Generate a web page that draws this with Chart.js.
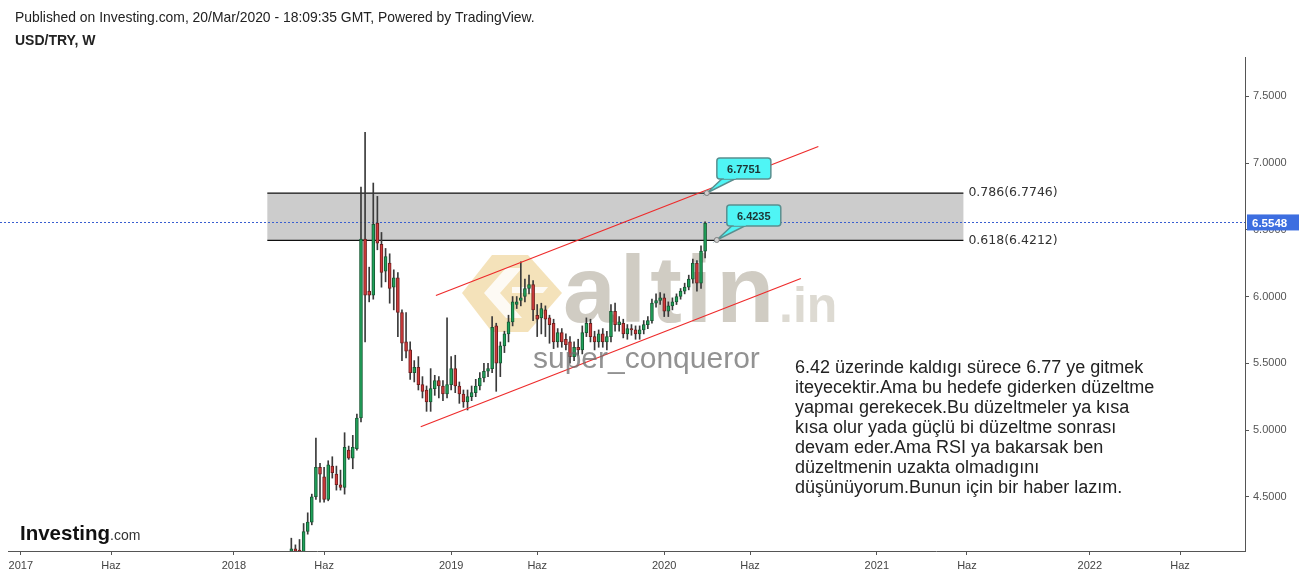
<!DOCTYPE html>
<html>
<head>
<meta charset="utf-8">
<script src="https://cdn.jsdelivr.net/npm/chart.js@4.4.1/dist/chart.umd.min.js"></script>
<style>
  html, body { margin: 0; padding: 0; background: #fff; }
</style>
</head>
<body>
<canvas id="chart" width="1299" height="579"></canvas>
<script>
// weekly USD/TRY candles, first bar = week of firstWeek
const firstWeek = "2018-04-09";
const opens = [4.09,4.11,4.10,4.08,4.24,4.31,4.50,4.72,4.65,4.48,4.73,4.67,4.59,4.57,4.85,4.79,4.86,5.09,6.43,6.04,
  6.01,6.55,6.39,6.19,6.25,6.07,6.14,5.88,5.66,5.60,5.43,5.47,5.34,5.30,5.21,5.31,5.37,5.33,5.27,5.34,
  5.46,5.33,5.27,5.21,5.25,5.28,5.33,5.39,5.44,5.46,5.78,5.50,5.63,5.72,5.81,5.94,5.97,6.00,6.06,6.09,
  5.86,5.84,5.90,5.84,5.80,5.66,5.73,5.68,5.66,5.55,5.62,5.60,5.73,5.80,5.70,5.66,5.72,5.66,5.70,5.89,
  5.79,5.80,5.72,5.76,5.75,5.72,5.75,5.79,5.82,5.95,5.97,5.99,5.89,5.93,5.96,6.00,6.04,6.07,6.13,6.25,
  6.10,6.34];
const highs = [4.19,4.14,4.18,4.30,4.38,4.52,4.94,4.75,4.72,4.77,4.80,4.73,4.70,4.98,4.88,4.96,5.12,6.82,7.23,6.22,
  6.85,6.75,6.48,6.36,6.32,6.20,6.18,5.90,5.88,5.66,5.52,5.55,5.40,5.33,5.46,5.41,5.40,5.37,5.84,5.55,
  5.56,5.36,5.30,5.30,5.33,5.38,5.43,5.50,5.50,5.85,5.80,5.66,5.74,5.86,6.00,6.00,6.26,6.13,6.16,6.12,
  5.94,5.95,5.93,5.86,5.83,5.76,5.76,5.72,5.70,5.66,5.68,5.78,5.84,5.83,5.74,5.75,5.76,5.74,5.94,5.95,
  5.85,5.83,5.79,5.79,5.78,5.78,5.82,5.85,5.98,6.02,6.03,6.02,5.96,5.99,6.02,6.06,6.10,6.16,6.28,6.27,
  6.38,6.56];
const lows = [4.07,4.07,4.06,4.07,4.22,4.29,4.48,4.46,4.46,4.47,4.64,4.55,4.55,4.52,4.78,4.71,4.85,5.06,5.66,5.96,
  5.98,6.35,6.07,6.11,5.95,5.90,5.70,5.52,5.54,5.38,5.36,5.30,5.24,5.14,5.14,5.26,5.24,5.22,5.24,5.30,
  5.28,5.20,5.17,5.15,5.22,5.25,5.30,5.36,5.40,5.43,5.29,5.40,5.58,5.66,5.78,5.91,5.93,5.96,6.02,5.82,
  5.70,5.72,5.70,5.65,5.61,5.62,5.62,5.60,5.50,5.52,5.56,5.57,5.70,5.66,5.60,5.62,5.62,5.60,5.66,5.74,
  5.74,5.69,5.68,5.71,5.68,5.68,5.72,5.76,5.80,5.92,5.94,5.85,5.85,5.90,5.94,5.98,6.02,6.05,6.10,6.04,
  6.06,6.29];
const closes = [4.11,4.09,4.08,4.24,4.31,4.50,4.72,4.67,4.48,4.74,4.68,4.59,4.57,4.87,4.79,4.87,5.09,6.43,6.01,6.01,
  6.54,6.40,6.18,6.30,6.06,6.14,5.88,5.65,5.59,5.43,5.47,5.34,5.29,5.21,5.31,5.37,5.33,5.27,5.34,5.46,
  5.33,5.27,5.21,5.25,5.28,5.33,5.39,5.44,5.46,5.77,5.50,5.63,5.72,5.81,5.96,5.96,5.99,6.06,6.09,5.90,
  5.83,5.91,5.83,5.79,5.66,5.73,5.66,5.64,5.55,5.62,5.60,5.73,5.80,5.70,5.66,5.72,5.66,5.70,5.89,5.79,
  5.81,5.72,5.76,5.75,5.72,5.75,5.79,5.82,5.95,5.97,5.99,5.89,5.93,5.96,6.00,6.04,6.07,6.13,6.25,6.10,
  6.34,6.55];

const yTicks = [4.5, 5.0, 5.5, 6.0, 6.5, 7.0, 7.5];
const xTickDates = ["2017-01-02","2017-06-05","2018-01-01","2018-06-04","2019-01-07","2019-06-03",
  "2020-01-06","2020-06-01","2021-01-04","2021-06-07","2022-01-03","2022-06-06"];
const xTickLabels = ["2017","Haz","2018","Haz","2019","Haz","2020","Haz","2021","Haz","2022","Haz"];
const xRange = ["2016-12-11", "2022-09-25"];
const yRange = [4.094, 7.794];

const lastPrice = 6.5548;
const fibLevels = [{ ratio: "0.786", value: 6.7746 }, { ratio: "0.618", value: 6.4212 }];
const fibSpan = ["2018-02-27", "2021-06-01"];
const upperChannel = [["2018-12-12", 6.0075], ["2020-09-26", 7.124]];
const lowerChannel = [["2018-11-16", 5.025], ["2020-08-27", 6.135]];
const callouts = [
  { date: "2020-03-19", value: 6.7751, label: "6.7751" },
  { date: "2020-04-05", value: 6.4235, label: "6.4235" },
];
const noteLines = [
  "6.42 üzerinde kaldıgı sürece 6.77 ye gitmek",
  "iteyecektir.Ama bu hedefe giderken düzeltme",
  "yapmaı gerekecek.Bu düzeltmeler ya kısa",
  "kısa olur yada güçlü bi düzeltme sonrası",
  "devam eder.Ama RSI ya bakarsak ben",
  "düzeltmenin uzakta olmadıgını",
  "düşünüyorum.Bunun için bir haber lazım.",
];

function decYear(s) {
  const d = new Date(s + "T00:00:00Z");
  const y = d.getUTCFullYear();
  const a = Date.UTC(y, 0, 1), b = Date.UTC(y + 1, 0, 1);
  return y + (d.getTime() - a) / (b - a);
}
function addDays(s, n) {
  const d = new Date(s + "T00:00:00Z");
  d.setUTCDate(d.getUTCDate() + n);
  return d.toISOString().slice(0, 10);
}

const weekX = opens.map((_, i) => decYear(addDays(firstWeek, i * 7)));
const bodies = opens.map((o, i) => ({ x: weekX[i], y: [o, closes[i]] }));
const wicks = opens.map((o, i) => ({ x: weekX[i], y: [lows[i], highs[i]] }));
const isUp = (i) => closes[i] >= opens[i];

const GREEN = "#1fa25a", GREEN_EDGE = "#175a34";
const RED = "#d23a3a", RED_EDGE = "#6e1f1f";

const overlay = {
  id: "overlay",
  beforeDatasetsDraw(chart) {
    const { ctx, chartArea: a, scales: { x, y } } = chart;
    ctx.save();
    // fib box
    const x1 = x.getPixelForValue(decYear(fibSpan[0]));
    const x2 = x.getPixelForValue(decYear(fibSpan[1]));
    const yt = y.getPixelForValue(fibLevels[0].value);
    const yb = y.getPixelForValue(fibLevels[1].value);
    ctx.fillStyle = "#cccccc";
    ctx.fillRect(x1, yt, x2 - x1, yb - yt);
    ctx.strokeStyle = "#111";
    ctx.lineWidth = 1.3;
    ctx.beginPath();
    ctx.moveTo(x1, yt); ctx.lineTo(x2, yt);
    ctx.moveTo(x1, yb); ctx.lineTo(x2, yb);
    ctx.stroke();
    ctx.fillStyle = "#333";
    ctx.font = "12.5px 'DejaVu Sans'";
    ctx.textBaseline = "middle";
    fibLevels.forEach((f) => {
      ctx.fillText(f.ratio + "(" + f.value.toFixed(4) + ")", x2 + 5, y.getPixelForValue(f.value));
    });

    // watermark logo
    ctx.fillStyle = "rgba(236,206,140,0.6)";
    ctx.beginPath();
    ctx.moveTo(462, 293); ctx.lineTo(492, 255); ctx.lineTo(528, 255); ctx.lineTo(562, 293);
    ctx.lineTo(528, 332); ctx.lineTo(492, 332); ctx.closePath(); ctx.fill();
    ctx.fillStyle = "rgba(255,255,255,0.85)";
    ctx.beginPath();
    ctx.moveTo(484, 293); ctx.lineTo(506, 268); ctx.lineTo(522, 268); ctx.lineTo(500, 293);
    ctx.lineTo(522, 318); ctx.lineTo(506, 318); ctx.closePath(); ctx.fill();
    ctx.beginPath();
    ctx.moveTo(512, 287); ctx.lineTo(548, 287); ctx.lineTo(543, 293); ctx.lineTo(512, 293);
    ctx.closePath(); ctx.fill();

    ctx.textBaseline = "alphabetic";
    ctx.fillStyle = "rgba(196,191,180,0.8)";
    ctx.font = "bold 95px 'Liberation Sans', Arial";
    ctx.letterSpacing = "4px";
    ctx.fillText("altin", 563, 322);
    ctx.letterSpacing = "0px";
    ctx.fillStyle = "rgba(210,205,195,0.75)";
    ctx.font = "bold 50px 'Liberation Sans', Arial";
    ctx.fillText(".in", 779, 322);

    // last price line
    const yp = y.getPixelForValue(lastPrice);
    ctx.strokeStyle = "#3a5fd0";
    ctx.lineWidth = 1;
    ctx.setLineDash([2, 2]);
    ctx.beginPath();
    ctx.moveTo(0, Math.round(yp) + 0.5); ctx.lineTo(a.right, Math.round(yp) + 0.5);
    ctx.stroke();
    ctx.restore();
  },
  afterDatasetsDraw(chart) {
    const { ctx, scales: { x, y } } = chart;
    ctx.save();
    ctx.fillStyle = "rgba(110,110,110,0.75)";
    ctx.font = "30px 'Liberation Sans', Arial";
    ctx.fillText("super_conqueror", 533, 368);

    callouts.forEach((c) => {
      const ax = x.getPixelForValue(decYear(c.date));
      const ay = y.getPixelForValue(c.value);
      const bx = ax + 10, by = ay - 35, bw = 54, bh = 21;
      ctx.fillStyle = "#4ff5f5";
      ctx.strokeStyle = "#5a8f8f";
      ctx.lineWidth = 1.5;
      ctx.beginPath();
      ctx.moveTo(bx + 6, by + bh - 1); ctx.lineTo(ax, ay); ctx.lineTo(bx + 20, by + bh - 1);
      ctx.closePath(); ctx.fill(); ctx.stroke();
      ctx.beginPath();
      ctx.roundRect(bx, by, bw, bh, 3);
      ctx.fill(); ctx.stroke();
      ctx.beginPath();
      ctx.moveTo(bx + 7, by + bh - 1); ctx.lineTo(bx + 19, by + bh - 1);
      ctx.strokeStyle = "#4ff5f5"; ctx.stroke();
      ctx.fillStyle = "#1d3434";
      ctx.font = "bold 11px 'Liberation Sans', Arial";
      ctx.textAlign = "center";
      ctx.textBaseline = "middle";
      ctx.fillText(c.label, bx + bw / 2, by + bh / 2 + 1);
      ctx.textAlign = "left";
      ctx.beginPath();
      ctx.arc(ax, ay, 2.5, 0, Math.PI * 2);
      ctx.fillStyle = "#d0d0d0"; ctx.strokeStyle = "#808080"; ctx.lineWidth = 1;
      ctx.fill(); ctx.stroke();
    });

    ctx.fillStyle = "#222";
    ctx.font = "18px 'Liberation Sans', Arial";
    ctx.textBaseline = "alphabetic";
    noteLines.forEach((t, i) => ctx.fillText(t, 795, 373 + i * 20));
    ctx.restore();
  },
  afterDraw(chart) {
    const { ctx, chartArea: a, scales: { y } } = chart;
    ctx.save();
    ctx.fillStyle = "#222";
    ctx.font = "13.9px 'Liberation Sans', Arial";
    ctx.fillText("Published on Investing.com, 20/Mar/2020 - 18:09:35 GMT, Powered by TradingView.", 15, 22);
    ctx.font = "bold 14px 'Liberation Sans', Arial";
    ctx.fillText("USD/TRY, W", 15, 45);

    // price label on axis
    const yp = y.getPixelForValue(lastPrice);
    ctx.fillStyle = "#3d6ee0";
    ctx.fillRect(a.right + 2, yp - 8, 52, 16);
    ctx.fillStyle = "#fff";
    ctx.font = "bold 11.5px 'Liberation Sans', Arial";
    ctx.textBaseline = "middle";
    ctx.fillText(lastPrice.toFixed(4), a.right + 7, yp + 1);

    // investing logo
    ctx.textBaseline = "alphabetic";
    ctx.fillStyle = "#111";
    ctx.font = "bold 20.5px 'Liberation Sans', Arial";
    ctx.fillText("Investing", 20, 540);
    const w = ctx.measureText("Investing").width;
    ctx.fillStyle = "#333";
    ctx.font = "14px 'Liberation Sans', Arial";
    ctx.fillText(".com", 20 + w, 540);
    ctx.restore();
  },
};

Chart.defaults.font.family = "'Liberation Sans', Arial, sans-serif";
Chart.defaults.font.size = 11;

new Chart(document.getElementById("chart"), {
  type: "bar",
  data: {
    datasets: [
      {
        label: "wick",
        data: wicks,
        order: 3,
        grouped: false,
        barThickness: 1,
        backgroundColor: "#3a3a3a",
        borderWidth: 0,
      },
      {
        label: "body",
        data: bodies,
        order: 2,
        grouped: false,
        barThickness: 3,
        minBarLength: 1,
        borderSkipped: false,
        borderWidth: 1,
        backgroundColor: (c) => (isUp(c.dataIndex) ? GREEN : RED),
        borderColor: (c) => (isUp(c.dataIndex) ? GREEN_EDGE : RED_EDGE),
      },
      {
        type: "line",
        label: "upper",
        data: upperChannel.map((p) => ({ x: decYear(p[0]), y: p[1] })),
        order: 1,
        borderColor: "#ee2b2b",
        borderWidth: 1.2,
        pointRadius: 0,
      },
      {
        type: "line",
        label: "lower",
        data: lowerChannel.map((p) => ({ x: decYear(p[0]), y: p[1] })),
        order: 1,
        borderColor: "#ee2b2b",
        borderWidth: 1.2,
        pointRadius: 0,
      },
    ],
  },
  options: {
    responsive: false,
    animation: false,
    events: [],
    layout: { padding: { top: 57, left: 8, right: 0, bottom: 0 } },
    plugins: { legend: { display: false }, tooltip: { enabled: false } },
    scales: {
      x: {
        type: "linear",
        offset: false,
        min: decYear(xRange[0]),
        max: decYear(xRange[1]),
        afterBuildTicks: (s) => { s.ticks = xTickDates.map((d) => ({ value: decYear(d) })); },
        afterFit: (s) => { s.height = 28; s.paddingLeft = 0; s.paddingRight = 0; },
        grid: { offset: false, drawOnChartArea: false, drawTicks: true, tickLength: 4, color: "#555" },
        border: { display: true, color: "#555", width: 1 },
        ticks: {
          autoSkip: false,
          maxRotation: 0,
          padding: 4,
          color: "#444",
          callback: (v, i) => xTickLabels[i],
        },
      },
      y: {
        position: "right",
        min: yRange[0],
        max: yRange[1],
        afterBuildTicks: (s) => { s.ticks = yTicks.map((v) => ({ value: v })); },
        afterFit: (s) => { s.width = 54; s.paddingTop = 0; s.paddingBottom = 0; },
        grid: { offset: false, drawOnChartArea: false, drawTicks: true, tickLength: 4, color: "#555" },
        border: { display: true, color: "#555", width: 1 },
        ticks: { padding: 4, color: "#555", callback: (v) => v.toFixed(4) },
      },
    },
  },
  plugins: [overlay],
});
</script>
</body>
</html>
